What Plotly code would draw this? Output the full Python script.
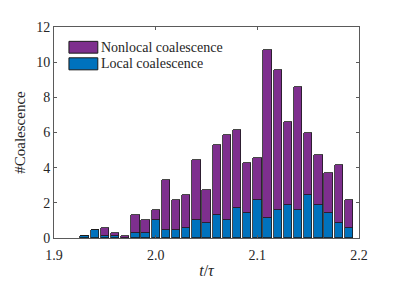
import plotly.graph_objects as go

t_centers = [1.93, 1.94, 1.95, 1.96, 1.97, 1.98, 1.99, 2.00, 2.01, 2.02, 2.03, 2.04, 2.05, 2.06,
             2.07, 2.08, 2.09, 2.10, 2.11, 2.12, 2.13, 2.14, 2.15, 2.16, 2.17, 2.18, 2.19]
local_vals = [0.14, 0.43, 0.14, 0.14, 0.00, 0.29, 0.29, 1.00, 0.43, 0.43, 0.57, 1.00, 0.86, 1.29,
              1.00, 1.71, 1.43, 2.14, 1.14, 1.57, 1.86, 1.57, 2.43, 1.86, 1.43, 0.86, 0.57]
total_vals = [0.14, 0.43, 0.57, 0.29, 0.14, 1.29, 1.00, 1.57, 3.29, 2.14, 2.43, 4.43, 2.71, 5.29,
              5.86, 6.14, 4.29, 4.57, 10.71, 9.57, 6.57, 8.57, 6.00, 4.71, 3.71, 4.14, 2.14]
nonlocal_vals = [round(t - l, 2) for t, l in zip(total_vals, local_vals)]

x_ticks = [1.9, 2.0, 2.1, 2.2]
x_ticktext = ["1.9", "2.0", "2.1", "2.2"]
y_ticks = [0, 2, 4, 6, 8, 10, 12]

BLUE = "#0072BD"
PURPLE = "#7E2F8E"
FONT = "Liberation Serif, serif"
AXC = "#5a5a5a"

fig = go.Figure()
fig.add_trace(go.Bar(x=t_centers, y=local_vals, name="Local coalescence", width=0.0082,
                     marker=dict(color=BLUE, line=dict(color="#1a1a1a", width=0.8))))
fig.add_trace(go.Bar(x=t_centers, y=nonlocal_vals, name="Nonlocal coalescence", width=0.0082,
                     marker=dict(color=PURPLE, line=dict(color="#1a1a1a", width=0.8))))

axis_common = dict(showline=True, linecolor=AXC, linewidth=1, mirror="ticks", ticks="inside",
                   ticklen=3, tickcolor=AXC, showgrid=False, zeroline=False,
                   tickfont=dict(family=FONT, size=14, color="#262626"))

# page body has an 8px default margin, so the figure is sized to fit the remaining window
fig.update_layout(
    width=391, height=281,
    margin=dict(l=45, r=39.5, t=14.5, b=44),
    barmode="stack", bargap=0,
    plot_bgcolor="white", paper_bgcolor="white",
    showlegend=False,
    xaxis=dict(range=[1.9, 2.2], tickvals=x_ticks, ticktext=x_ticktext, ticklabelstandoff=4,
               title=dict(text="<i>t</i>/<i>τ</i>", font=dict(family=FONT, size=16, color="#262626"),
                          standoff=3),
               **axis_common),
    yaxis=dict(range=[0, 12], tickvals=y_ticks,
               title=dict(text="#Coalescence", font=dict(family=FONT, size=15, color="#262626"),
                          standoff=6),
               **axis_common),
)

# manual legend (MATLAB-style wide swatches, no box)
legend_items = [("Nonlocal coalescence", PURPLE, 0.932, 0.876), ("Local coalescence", BLUE, 0.854, 0.797)]
for label, col, y1, y0 in legend_items:
    fig.add_shape(type="rect", xref="paper", yref="paper", x0=0.049, x1=0.1436, y0=y0, y1=y1,
                  fillcolor=col, line=dict(color="#1a1a1a", width=1))
    fig.add_annotation(xref="paper", yref="paper", x=0.148, y=(y0 + y1) / 2, text=label,
                       showarrow=False, xanchor="left", yanchor="middle",
                       font=dict(family=FONT, size=14, color="#262626"))

fig.write_html("out.html")
